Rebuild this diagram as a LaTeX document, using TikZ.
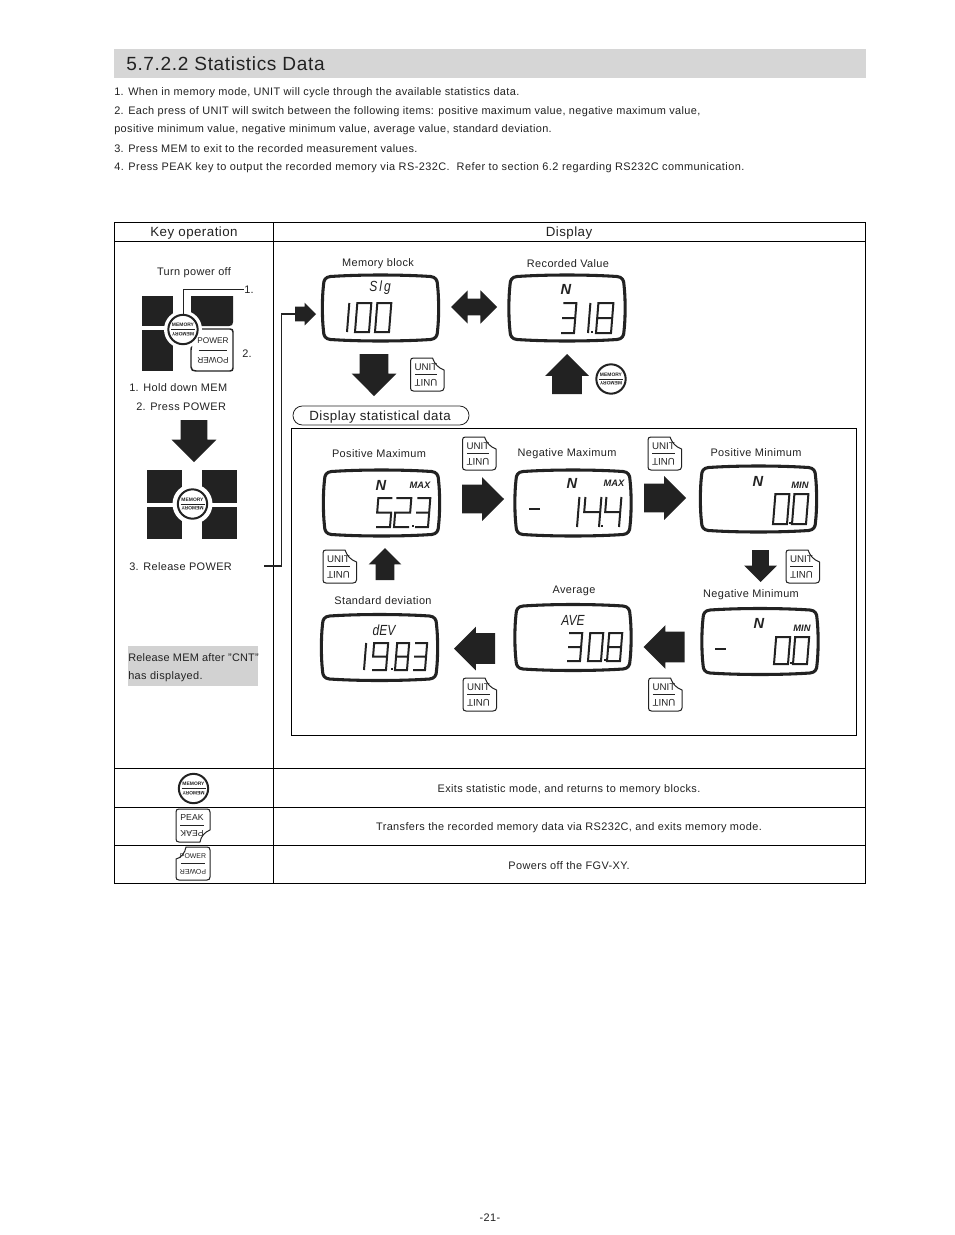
\documentclass[tikz,border=0pt]{standalone}
\usepackage{fontspec}
\setmainfont[LetterSpace=3.4]{Liberation Sans}
\newfontfamily\plainsans{Liberation Sans}
\usetikzlibrary{shapes.arrows}
\definecolor{hdgray}{HTML}{D6D6D6}
\definecolor{notegray}{HTML}{D2D2D2}
\definecolor{ink}{HTML}{222222}
\tikzset{
  txt/.style={inner sep=0pt,text=ink,yshift=-1.2pt,font=\fontsize{8.2}{10}\selectfont},
  ltxt/.style={txt,anchor=west},
  btxt/.style={inner sep=0pt,text=ink,yshift=-1.2pt,font=\fontsize{10}{12}\selectfont},
  rule/.style={line width=0.75pt,draw=black},
  lcdframe/.style={line width=2.3pt,draw=ink,line join=round},
  seg/.style={line width=1.5pt,draw=ink,line join=miter},
  keyframe/.style={line width=0.75pt,draw=ink,fill=white,line join=round},
  keytext/.style={inner sep=0pt,text=ink,font=\plainsans\fontsize{7.3}{8}\selectfont},
  memtext/.style={inner sep=0pt,text=ink,font=\plainsans\bfseries\fontsize{3.7}{5}\selectfont},
  lcdn/.style={inner sep=0pt,text=ink,font=\plainsans\bfseries\itshape\fontsize{11}{12}\selectfont},
  lcdm/.style={inner sep=0pt,text=ink,font=\plainsans\bfseries\itshape\fontsize{7}{8}\selectfont},
  lcdw/.style={inner sep=0pt,text=ink,xscale=0.82,transform shape,font=\plainsans\itshape\fontsize{11}{12}\selectfont},
  blockbase/.style={fill=ink,inner xsep=0pt,outer sep=0pt}
}
% block arrow: name, cx, cy, length, head width, stem width, direction
\newcommand{\barrow}[7]{\node[blockbase,single arrow,anchor=tail,inner ysep={#6/2*0.75pt},minimum height=#4*0.75pt,minimum width=#5*0.75pt,single arrow head extend={(#5-#6)/2*0.75pt},rotate=#7] (#1) at ({#2-cos(#7)*#4/2},{#3+sin(#7)*#4/2}) {};}
% LCD frame
\newcommand{\lcd}[3]{\coordinate (#1) at (#2,#3);
 \begin{scope}[shift={(#2,#3)}]
 \draw[lcdframe] (-50,-31.5) .. controls (-20,-33.5) and (20,-33.5) .. (50,-31.5) .. controls (55,-31) and (57,-28) .. (57,-23) .. controls (58.5,-10) and (58.5,10) .. (57,23) .. controls (57,28) and (55,31) .. (50,31.5) .. controls (20,33.5) and (-20,33.5) .. (-50,31.5) .. controls (-55,31) and (-57,28) .. (-57,23) .. controls (-58.5,10) and (-58.5,-10) .. (-57,-23) .. controls (-57,-28) and (-55,-31) .. (-50,-31.5) -- cycle;
 \end{scope}}
% seven segment digit: x left, y bottom, w, h, digit
\newcommand{\dgt}[5]{\pgfmathsetmacro{\dgtc}{-0.08*#4}\pgfmathsetmacro{\dgth}{-1*#4}
 \begin{scope}[cm={#3,0,\dgtc,\dgth,(#1,#2)}]
 \ifcase#5\relax
 \draw[seg] (0,0) rectangle (1,1);
 \or \draw[seg] (1,0) -- (1,1);
 \or \draw[seg] (0,1) -- (1,1) -- (1,.5) -- (0,.5) -- (0,0) -- (1,0);
 \or \draw[seg] (0,1) -- (1,1) -- (1,0) -- (0,0) (0,.5) -- (1,.5);
 \or \draw[seg] (0,1) -- (0,.5) -- (1,.5) (1,1) -- (1,0);
 \or \draw[seg] (1,1) -- (0,1) -- (0,.5) -- (1,.5) -- (1,0) -- (0,0);
 \or \or \or
 \draw[seg] (0,0) rectangle (1,1) (0,.5) -- (1,.5);
 \or \draw[seg] (0,0) -- (1,0) -- (1,1) -- (0,1) -- (0,.5) -- (1,.5);
 \fi
 \end{scope}}
\newcommand{\lcdpt}[2]{\fill[ink] (#1-1,#2-1.5) rectangle (#1+1,#2+0.5);}
\newcommand{\lcdminus}[2]{\fill[ink] (#1-5.5,#2-1) rectangle (#1+5.5,#2+1);}
% key labels: name, text, x, y, w, h
\newcommand{\keylabels}[6]{
 \node[keytext] (#1t) at ({#3+#5/2},{#4+#6*0.27}) {#2};
 \node[keytext,rotate=180] (#1b) at ({#3+#5/2},{#4+#6*0.74}) {#2};
 \draw[line width=0.6pt,draw=ink] ({#3+#5*0.14},{#4+#6*0.5}) -- ({#3+#5*0.86},{#4+#6*0.5});}
% key with upper right cut
\newcommand{\keyUR}[4]{\begin{scope}[shift={(#3,#4)}]
 \draw[keyframe] (3,0) -- (22,0) .. controls (24,6) and (28,10) .. (33.5,12) -- (33.5,30) .. controls (33.5,32) and (32,33) .. (30,33) -- (3,33) .. controls (1,33) and (0,32) .. (0,30) -- (0,3) .. controls (0,1) and (1,0) .. (3,0) -- cycle;
 \end{scope}\keylabels{#1}{#2}{#3}{#4}{31}{33}}
% key with lower right cut
\newcommand{\keyLR}[4]{\begin{scope}[shift={(#3,#4)}]
 \draw[keyframe] (3,0) -- (31,0) .. controls (33,0) and (34,1) .. (34,3) -- (34,21) .. controls (29,23) and (25,27) .. (24,33) -- (3,33) .. controls (1,33) and (0,32) .. (0,30) -- (0,3) .. controls (0,1) and (1,0) .. (3,0) -- cycle;
 \end{scope}\keylabels{#1}{#2}{#3}{#4}{32}{33}}
% key with upper left cut
\newcommand{\keyUL}[4]{\begin{scope}[shift={(#3,#4)}]
 \draw[keyframe] (10,0) -- (31,0) .. controls (33,0) and (34,1) .. (34,3) -- (34,30) .. controls (34,32) and (33,33) .. (31,33) -- (3,33) .. controls (1,33) and (0,32) .. (0,30) -- (0,12) .. controls (5,11) and (9,6) .. (10,0) -- cycle;
 \end{scope}\keylabels{#1}{#2}{#3}{#4}{34}{33}}
% memory button: name, cx, cy
\newcommand{\membtn}[3]{
 \node[circle,draw=ink,fill=white,line width=1.5pt,minimum size=22pt,inner sep=0pt] (#1) at (#2,#3) {};
 \node[memtext] (#1t) at (#2,#3-4.5) {MEMORY};
 \node[memtext,rotate=180] (#1b) at (#2,#3+4.5) {MEMORY};
 \draw[line width=0.5pt,draw=ink] (#2-12,#3) -- (#2+12,#3);}
\begin{document}
\begin{tikzpicture}[x=0.75pt,y=-0.75pt]
\useasboundingbox[fill=white] (0,0) rectangle (954,1235);
% heading
\fill[hdgray] (114,49) rectangle (866,78);
\node[anchor=west,inner sep=0pt,text=ink,font=\fontsize{14.3}{16}\selectfont] (title) at (126,64) {5.7.2.2 Statistics Data};
\node[ltxt] (p1) at (114,91) {1. When in memory mode, UNIT will cycle through the available statistics data.};
\node[ltxt] (p2) at (114,110) {2. Each press of UNIT will switch between the following items: positive maximum value, negative maximum value,};
\node[ltxt] (p2b) at (114,128) {positive minimum value, negative minimum value, average value, standard deviation.};
\node[ltxt] (p3) at (114,147) {3. Press MEM to exit to the recorded measurement values.};
\node[ltxt,font=\fontsize{8.2}{10}\selectfont\addfontfeature{LetterSpace=4}] (p4) at (114,166) {4. Press PEAK key to output the recorded memory via RS-232C.\ \ Refer to section 6.2 regarding RS232C communication.};
% table
\draw[rule] (114,222) rectangle (865.5,883);
\draw[rule] (273,222) -- (273,883);
\draw[rule] (114,241.5) -- (865.5,241.5);
\draw[rule] (114,768.5) -- (865.5,768.5);
\draw[rule] (114,807.5) -- (865.5,807.5);
\draw[rule] (114,845.5) -- (865.5,845.5);
\node[btxt] (h1) at (194,231) {Key operation};
\node[btxt] (h2) at (569,231) {Display};
% left column
\node[txt] (turn) at (194,271) {Turn power off};
\fill[ink] (142,296) rectangle (173,326);
\fill[ink] (191,296) -- (233,296) -- (233,322) .. controls (233,325) and (232,326) .. (229,326) -- (191,326) -- cycle;
\fill[ink] (142,330) rectangle (173,371);
\draw[line width=1.1pt,draw=ink,fill=white] (194,329) -- (230,329) .. controls (232,329) and (233,330) .. (233,332) -- (233,368) .. controls (233,370) and (232,371) .. (230,371) -- (196,371) .. controls (193,371) and (191,370) .. (191,367) -- (191,350) -- cycle;
\fill[white] (183,329.5) circle (19);
\keylabels{pw}{\fontsize{6.2}{7}\selectfont POWER}{193}{329}{40}{42}
\membtn{m1}{183}{329.5}
\node[txt,anchor=west] (one) at (244,288) {1.};
\node[txt,anchor=west] (two) at (242,352) {2.};
\draw[line width=0.75pt,draw=ink] (m1.north) |- (one.west);
\node[ltxt] (s1) at (129,386) {1. Hold down MEM};
\node[ltxt] (s2) at (136,405) {2. Press POWER};
\barrow{a0}{194}{441}{42}{44}{26}{-90}
\fill[ink] (147,470) rectangle (182,503);
\fill[ink] (202,470) rectangle (237,503);
\fill[ink] (147,507) rectangle (182,539);
\fill[ink] (202,507) rectangle (237,539);
\fill[white] (192.5,504) circle (20);
\membtn{m2}{192.5}{504}
\node[ltxt] (s3) at (129,565) {3. Release POWER};
\fill[notegray] (128,646) rectangle (258,686);
\node[ltxt,font=\fontsize{8.2}{10}\selectfont\addfontfeature{LetterSpace=2}] (n1) at (128,656) {Release MEM after ”CNT”};
\node[ltxt] (n2) at (128,675) {has displayed.};
% feed line
\barrow{ain}{305.5}{314}{21}{22}{14}{0}
\coordinate (fa) at (264,566);
\coordinate (fb) at (281.5,566);
\draw[line width=0.9pt,draw=ink] (fa) -- (fb) |- (ain.tail);
% top row
\node[txt] (lm) at (378,262) {Memory block};
\node[txt] (lr) at (568,262) {Recorded Value};
\lcd{d1}{380.5}{308}
\node[lcdw] (slg) at (380,288) {S\,l\,g};
\dgt{345}{332}{2}{29}{1}
\dgt{355}{332}{14}{29}{0}
\dgt{375}{332}{14}{29}{0}
\lcd{d2}{567}{308}
\node[lcdn] (n0) at (566,289) {N};
\dgt{561}{333}{13}{30}{3}
\dgt{586}{333}{2}{30}{1}
\lcdpt{592}{332}
\dgt{596}{333}{15}{30}{8}
\node[blockbase,double arrow,inner ysep=6pt,minimum height=34.5pt,minimum width=24.7pt,double arrow head extend=6.35pt] (dbl) at (474,307) {};
\barrow{a1}{374}{375}{42}{44}{28}{-90}
\keyUR{k1}{UNIT}{410.5}{358}
\barrow{a2}{567}{374}{40}{43}{29}{90}
\membtn{m3}{611}{379}
% statistical section
\draw[rule,line width=0.7pt] (291,428.5) rectangle (856.5,735);
\draw[line width=0.6pt,draw=ink,rounded corners=7pt] (293,406) rectangle (469,425);
\node[btxt] (dsd) at (380,415) {Display statistical data};
\node[txt] (l1) at (379,452) {Positive Maximum};
\node[txt] (l2) at (567,452) {Negative Maximum};
\node[txt] (l3) at (756,451) {Positive Minimum};
\node[txt] (l4) at (751,593) {Negative Minimum};
\node[txt] (l5) at (574,589) {Average};
\node[txt] (l6) at (383,599) {Standard deviation};
% positive max
\lcd{d3}{381.5}{503}
\node[lcdn] (n3) at (381,485) {N};
\node[lcdm] (x3) at (420,485) {MAX};
\dgt{376}{527}{14}{29}{5}
\dgt{394}{527}{15}{29}{2}
\lcdpt{412.5}{526.5}
\dgt{415}{527}{13}{29}{3}
% negative max
\lcd{d4}{573}{503}
\node[lcdn] (n4) at (572,483) {N};
\node[lcdm] (x4) at (614,483) {MAX};
\lcdminus{534}{509}
\dgt{575}{527}{2}{30}{1}
\dgt{583}{527}{16}{30}{4}
\lcdpt{602}{526.5}
\dgt{604}{527}{15}{30}{4}
% positive min
\lcd{d5}{758.5}{499}
\node[lcdn] (n5) at (758,481) {N};
\node[lcdm] (x5) at (800,485) {MIN};
\dgt{773}{524}{14}{30}{0}
\lcdpt{790}{523.5}
\dgt{792}{524}{14}{30}{0}
% negative min
\lcd{d6}{760}{641.5}
\node[lcdn] (n6) at (759,623) {N};
\node[lcdm] (x6) at (802,628) {MIN};
\lcdminus{720}{649}
\dgt{774}{664}{14}{27}{0}
\lcdpt{791}{663.5}
\dgt{793}{664}{14}{27}{0}
% average
\lcd{d7}{573}{637.5}
\node[lcdw] (w7) at (573,620) {AVE};
\dgt{567}{661}{13}{28}{3}
\dgt{588}{661}{13}{28}{0}
\lcdpt{604.5}{660.5}
\dgt{607}{661}{13}{28}{8}
% standard deviation
\lcd{d8}{379.5}{647.5}
\node[lcdw] (w8) at (384,630) {dEV};
\dgt{362}{670}{2}{27}{1}
\dgt{372}{670}{14}{27}{9}
\lcdpt{392}{669.5}
\dgt{395}{670}{12}{27}{8}
\dgt{413}{670}{12}{27}{3}
% arrows
\barrow{a3}{483}{499}{42}{43}{28}{0}
\barrow{a4}{665}{498}{42}{43}{28}{0}
\barrow{a5}{760.5}{566}{32}{32}{16}{-90}
\barrow{a6}{664}{647}{41}{43}{30}{180}
\barrow{a7}{474.5}{648.5}{41}{43}{30}{180}
\barrow{a8}{385}{564}{32}{32}{18}{90}
% unit keys
\keyUR{k2}{UNIT}{462.5}{437}
\keyUR{k3}{UNIT}{648}{437}
\keyUR{k4}{UNIT}{786}{550}
\keyUR{k5}{UNIT}{323}{550}
\keyUR{k6}{UNIT}{463}{678}
\keyUR{k7}{UNIT}{648.5}{678}
% bottom rows
\membtn{m4}{193.5}{788.5}
\keyLR{k8}{\fontsize{6.5}{7}\selectfont PEAK}{176}{809}
\keyUL{k9}{\fontsize{5.2}{6}\selectfont POWER}{176}{847}
\node[txt] (r1) at (569,788) {Exits statistic mode, and returns to memory blocks.};
\node[txt] (r2) at (569,826) {Transfers the recorded memory data via RS232C, and exits memory mode.};
\node[txt] (r3) at (569,864) {Powers off the FGV-XY.};
\node[txt] (pg) at (490,1216) {-21-};
\end{tikzpicture}
\end{document}
